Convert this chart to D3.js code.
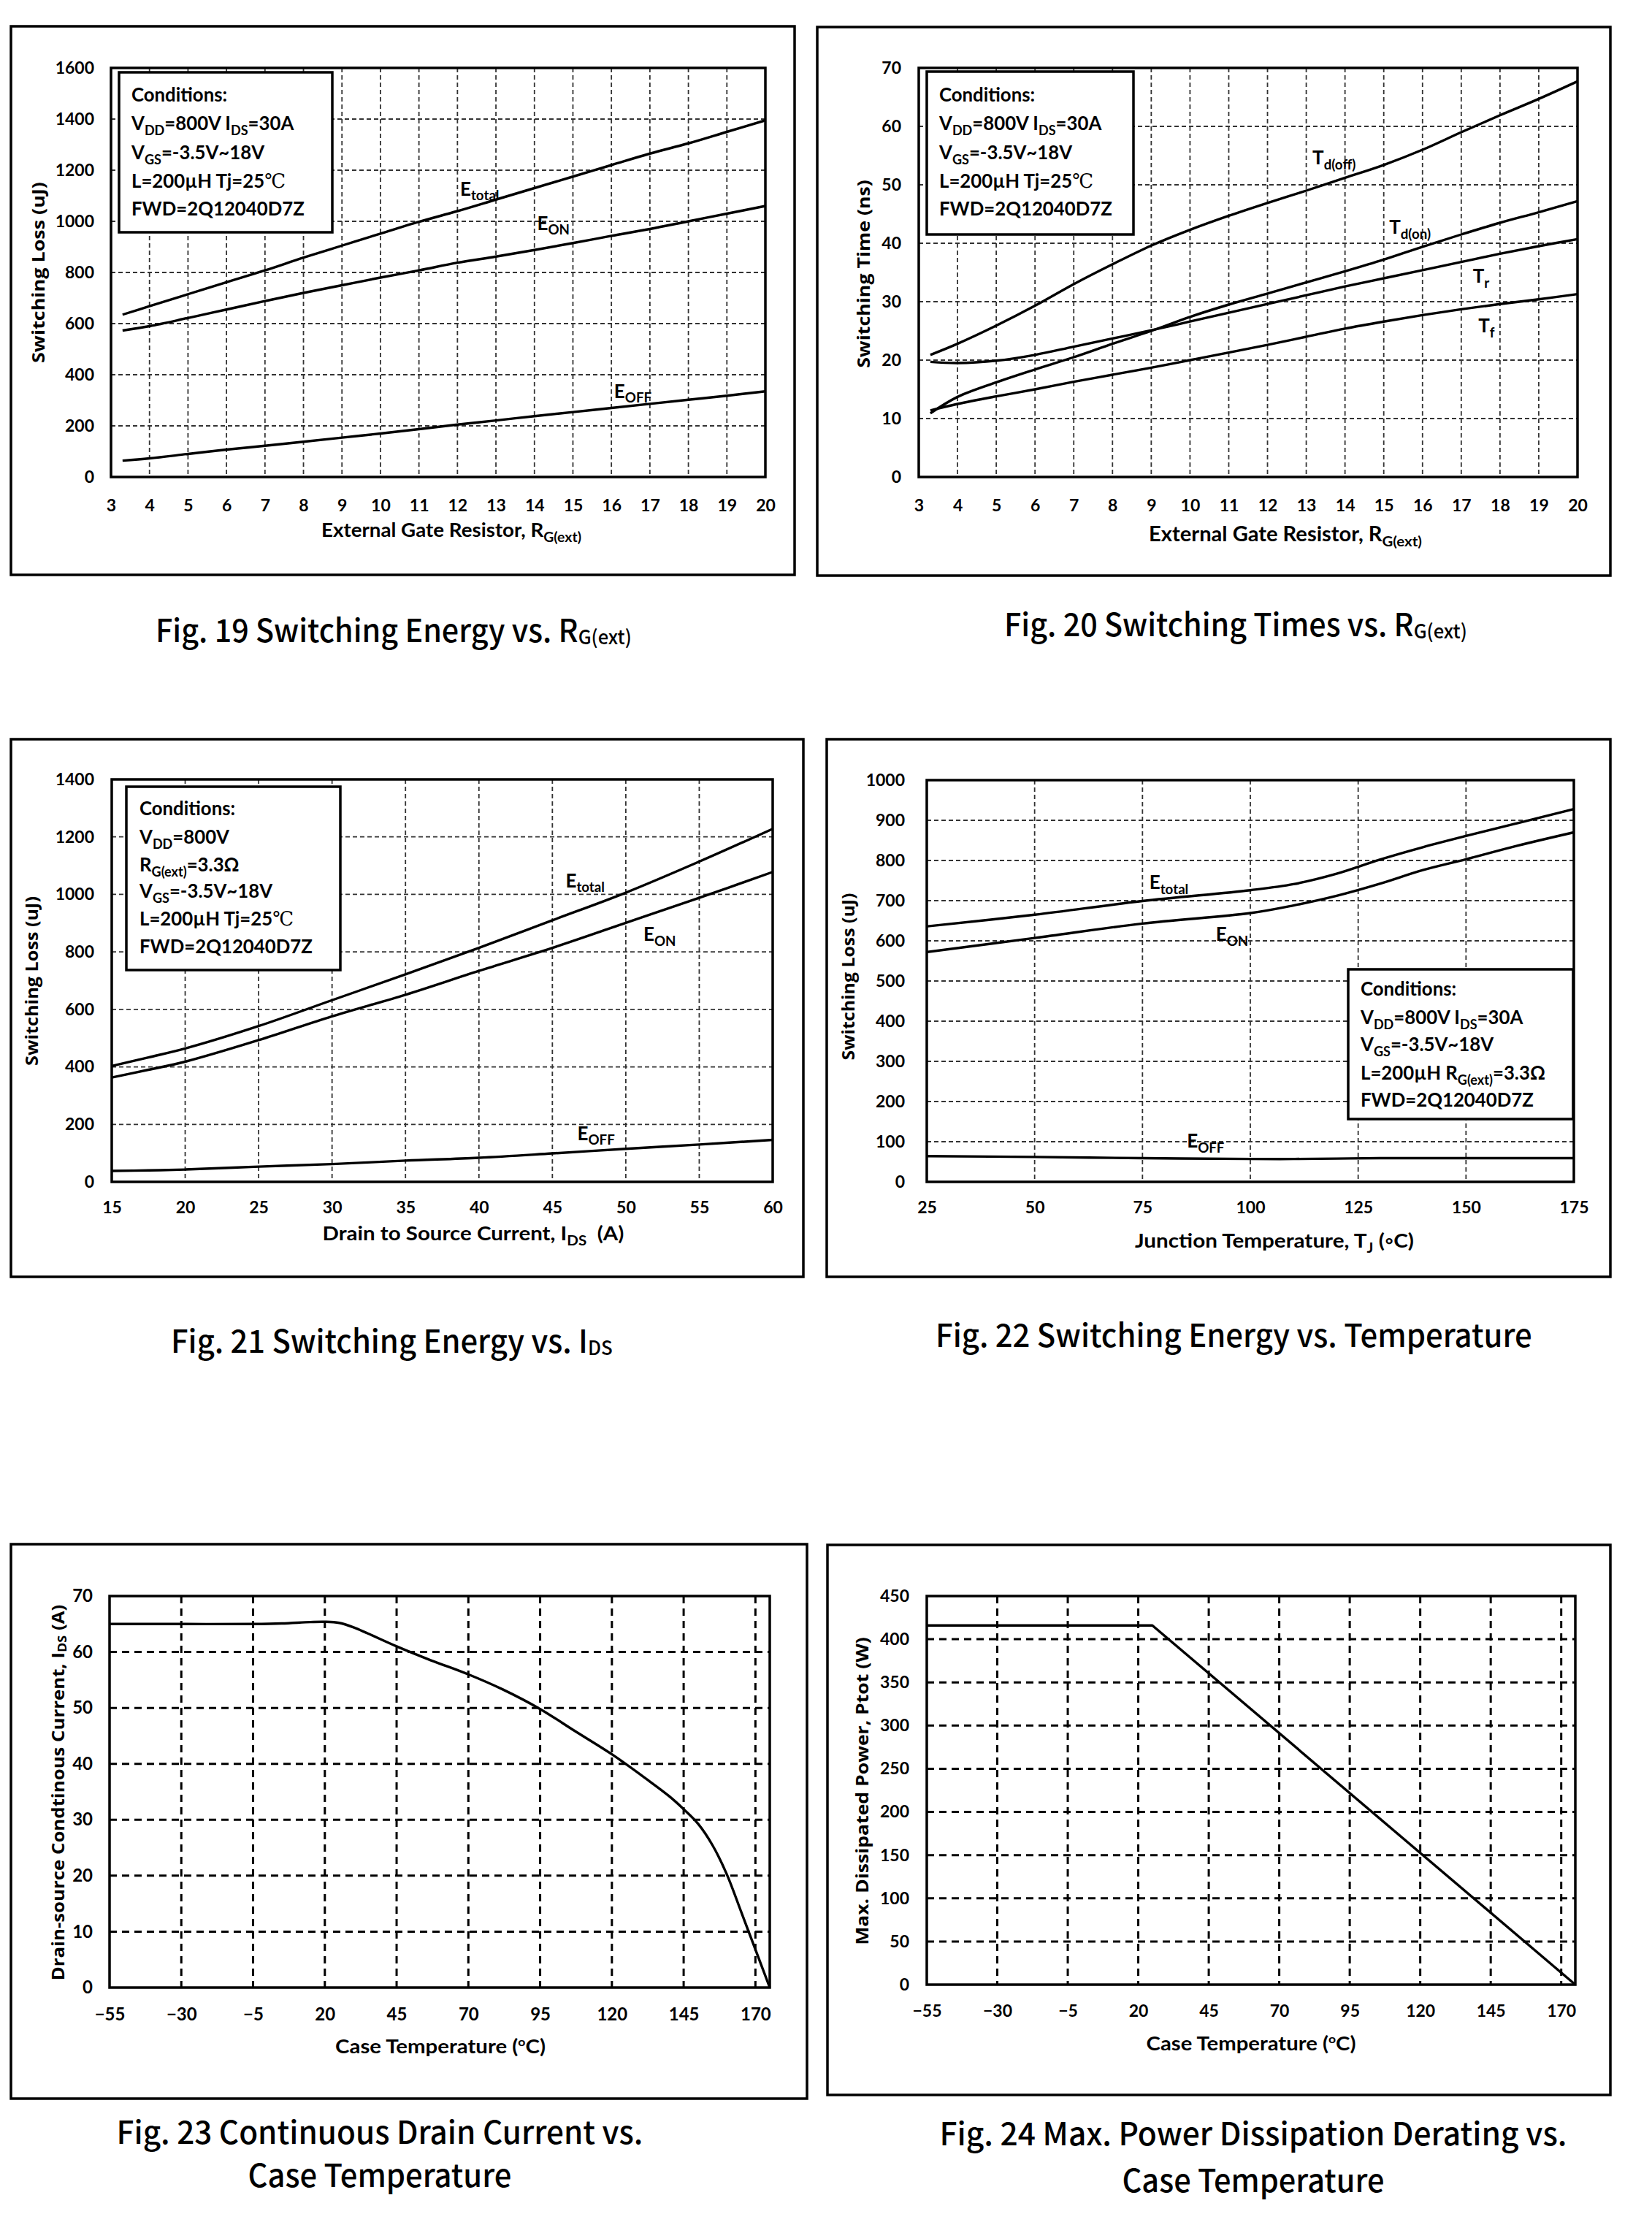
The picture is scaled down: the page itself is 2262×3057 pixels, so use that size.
<!DOCTYPE html>
<html><head><meta charset="utf-8">
<script src="https://cdn.jsdelivr.net/npm/d3@7"></script>
<style>body{margin:0;background:#fff} svg{display:block}</style>
</head><body>
<script>
// ---------------- DATA ----------------
// Fig. 19 / Fig. 20 : external gate resistor (ohm)
const rgExt = [3.3,4,5,6,7,8,9,10,11,12,13,14,15,16,17,18,19,20];
const fig19Etotal = [635,668,715,762,808,858,905,952,998,1040,1085,1130,1175,1220,1265,1305,1350,1395];
const fig19Eon    = [573,590,622,655,688,720,750,780,808,838,862,888,915,943,970,1000,1030,1060];
const fig19Eoff   = [64,73,90,107,122,138,154,170,187,205,221,238,254,270,286,302,318,335];
const fig19XTicks = [3,4,5,6,7,8,9,10,11,12,13,14,15,16,17,18,19,20];
const fig19YTicks = [0,200,400,600,800,1000,1200,1400,1600];

const fig20Tdoff = [20.9,22.8,25.9,29.3,33.0,36.4,39.6,42.3,44.7,46.9,49.0,51.2,53.4,56.0,59.0,61.9,64.7,67.7];
const fig20Tdon  = [10.9,13.7,16.2,18.4,20.5,22.8,25.0,27.4,29.5,31.4,33.3,35.2,37.2,39.4,41.5,43.5,45.3,47.2];
const fig20Tr    = [19.7,19.5,19.9,20.9,22.3,23.7,25.1,26.6,28.1,29.6,31.1,32.6,34.0,35.4,36.8,38.2,39.5,40.7];
const fig20Tf    = [11.4,12.5,13.8,15.0,16.3,17.5,18.7,20.0,21.3,22.6,24.0,25.4,26.6,27.7,28.7,29.6,30.4,31.3];
const fig20YTicks = [0,10,20,30,40,50,60,70];

// Fig. 21 : drain-source current (A)
const idsA = [15,17.5,20,25,30,35,40,45,50,55,60];
const fig21Etotal = [403,433,464,542,632,722,814,910,1006,1114,1228];
const fig21Eon    = [363,390,418,493,576,651,734,814,901,988,1078];
const fig21Eoff   = [38,40,43,53,62,74,84,99,115,130,146];
const fig21XTicks = [15,20,25,30,35,40,45,50,55,60];
const fig21YTicks = [0,200,400,600,800,1000,1200,1400];

// Fig. 22 : junction temperature (C)
const tjC = [25,50,75,100,110,120,130,140,150,162,175];
const fig22Etotal = [636,665,699,726,741,767,802,833,861,893,928];
const fig22Eon    = [572,607,643,669,688,712,742,776,803,837,870];
const fig22Eoff   = [64,62,59,57,57,58,59,59,59,59,59];
const fig22XTicks = [25,50,75,100,125,150,175];
const fig22YTicks = [0,100,200,300,400,500,600,700,800,900,1000];

// Fig. 23 : case temperature (C) vs continuous drain current (A)
const fig23Tc  = [-55,-30,-5,5,15,20,25,30,35,45,57,70,82,95,107,120,132,140,145,150,155,160,165,170,175];
const fig23Ids = [65,65,65,65.1,65.35,65.4,65.2,64.4,63.3,61.0,58.5,56.0,53.3,49.8,45.9,41.7,37.3,34.2,31.9,29.3,25.5,20.3,13.6,6.8,0];
const caseXTicks = [-55,-30,-5,20,45,70,95,120,145,170];
const fig23YTicks = [0,10,20,30,40,50,60,70];

// Fig. 24 : case temperature (C) vs max dissipated power (W)
const fig24Tc   = [-55,25,175];
const fig24Ptot = [416,416,0];
const fig24YTicks = [0,50,100,150,200,250,300,350,400,450];

// ---------------- DRAWING ----------------
const W = 2262, H = 3057;
const svg = d3.select("body").append("svg").attr("width", W).attr("height", H);
svg.append("rect").attr("width", W).attr("height", H).attr("fill", "#fff");

const LAT = "Lato, 'Open Sans', 'DejaVu Sans', sans-serif";
const OPS = "'Open Sans', 'Noto Sans', sans-serif";
const CJK = "'Noto Sans CJK SC', 'Noto Sans', sans-serif";

function rich(sel, str, size, opt) {
  opt = Object.assign({subScale: 0.68, subShift: 0.22, supScale: 0.6, supShift: -0.4}, opt || {});
  const parts = str.split(/(_\{[^}]*\}|\^\{[^}]*\}|℃)/).filter(s => s.length);
  let shift = 0;
  parts.forEach(p => {
    const t = sel.append("tspan");
    let target = 0;
    if (p.startsWith("_{")) {
      t.text(p.slice(2, -1)).attr("font-size", size * opt.subScale);
      target = size * opt.subShift;
    } else if (p.startsWith("^{")) {
      t.text(p.slice(2, -1)).attr("font-size", size * opt.supScale);
      target = size * opt.supShift;
    } else {
      t.text(p);
      if (p === "℃") t.attr("font-family", "'Liberation Serif','DejaVu Serif',serif").attr("font-weight", "normal");
    }
    const dy = target - shift;
    if (dy !== 0) t.attr("dy", dy);
    shift = target;
  });
}

// place a text at (cx,cy), rotated, stretched horizontally to a target length
function fit(t, target, cx, cy, rot) {
  const w = t.node().getComputedTextLength();
  const sx = target ? target / w : 1;
  t.attr("x", 0).attr("y", 0).attr("transform", `translate(${cx},${cy}) rotate(${rot || 0}) scale(${sx},1)`);
}

function panel(c) {
  const g = svg.append("g");
  const [fx0, fy0, fx1, fy1] = c.frame;
  g.append("rect").attr("x", fx0).attr("y", fy0).attr("width", fx1 - fx0).attr("height", fy1 - fy0)
    .attr("fill", "none").attr("stroke", "#000").attr("stroke-width", 3.5);
  const [px0, py0, px1, py1] = c.plot;
  const x = d3.scaleLinear().domain(c.xDomain).range([px0, px1]);
  const y = d3.scaleLinear().domain(c.yDomain).range([py1, py0]);

  // grid
  const gs = c.gridStyle;
  g.append("g").selectAll("line").data(c.xTicks.filter(v => x(v) > px0 + 2 && x(v) < px1 - 2)).join("line")
    .attr("x1", d => x(d)).attr("x2", d => x(d)).attr("y1", py0).attr("y2", py1)
    .attr("stroke", gs.color).attr("stroke-width", gs.width).attr("stroke-dasharray", gs.dash);
  g.append("g").selectAll("line").data(c.yTicks.filter(v => y(v) > py0 + 2 && y(v) < py1 - 2)).join("line")
    .attr("x1", px0).attr("x2", px1).attr("y1", d => y(d)).attr("y2", d => y(d))
    .attr("stroke", gs.color).attr("stroke-width", gs.width).attr("stroke-dasharray", gs.dash);

  // axes (labels only)
  const ax = g.append("g").attr("transform", `translate(0,${py1})`)
    .call(d3.axisBottom(x).tickValues(c.xTicks).tickSize(0).tickPadding(c.xPad).tickFormat(d3.format("d")));
  ax.select(".domain").remove();
  ax.selectAll("text").attr("font-family", LAT).attr("font-weight", "bold").attr("font-size", c.tickSize).attr("fill", "#000");
  const ay = g.append("g").attr("transform", `translate(${px0},0)`)
    .call(d3.axisLeft(y).tickValues(c.yTicks).tickSize(0).tickPadding(c.yPad).tickFormat(d3.format("d")));
  ay.select(".domain").remove();
  ay.selectAll("text").attr("font-family", LAT).attr("font-weight", "bold").attr("font-size", c.tickSize).attr("fill", "#000");

  // curves
  const line = d3.line().x(d => x(d[0])).y(d => y(d[1])).curve(c.curve || d3.curveCatmullRom.alpha(0.5));
  c.series.forEach(s => {
    g.append("path").datum(s.xs.map((v, i) => [v, s.ys[i]])).attr("d", line)
      .attr("fill", "none").attr("stroke", "#000").attr("stroke-width", 3.4).attr("stroke-linejoin", "round");
    if (s.label) {
      const t = g.append("text").attr("x", x(s.label[0])).attr("y", y(s.label[1]))
        .attr("font-family", LAT).attr("font-weight", "bold").attr("font-size", 26).attr("fill", "#000");
      rich(t, s.label[2], 26, {subScale: 0.72, subShift: 0.25});
    }
  });

  // plot border
  g.append("rect").attr("x", px0).attr("y", py0).attr("width", px1 - px0).attr("height", py1 - py0)
    .attr("fill", "none").attr("stroke", "#000").attr("stroke-width", 3.5);

  // conditions box
  if (c.cond) {
    const [bx0, by0, bx1, by1] = c.cond.box;
    g.append("rect").attr("x", bx0).attr("y", by0).attr("width", bx1 - bx0).attr("height", by1 - by0)
      .attr("fill", "#fff").attr("stroke", "#000").attr("stroke-width", 3.5);
    c.cond.lines.forEach((ln, i) => {
      const t = g.append("text").attr("x", 0).attr("y", 0)
        .attr("transform", `translate(${c.cond.tx},${c.cond.base[i]}) scale(0.955,1)`)
        .attr("font-family", LAT).attr("font-weight", "bold").attr("font-size", 27).attr("fill", "#000");
      rich(t, ln, 27, {subScale: 0.7, subShift: 0.25});
    });
  }

  // axis titles
  const yt = g.append("text").attr("text-anchor", "middle").attr("dominant-baseline", "central")
    .attr("font-family", OPS).attr("font-weight", "bold").attr("font-size", 24).attr("fill", "#000");
  rich(yt, c.yTitle, 24, {subScale: 0.7, subShift: 0.25});
  fit(yt, c.yTitleLen, c.yTitlePos[0], c.yTitlePos[1], -90);
  const xt = g.append("text").attr("text-anchor", "middle")
    .attr("font-family", LAT).attr("font-weight", "bold").attr("font-size", c.titleSize).attr("fill", "#000");
  rich(xt, c.xTitle, c.titleSize, {subScale: 0.7, subShift: 0.25});
  fit(xt, c.xTitleLen, c.xTitlePos[0], c.xTitlePos[1], 0);
}

const lightGrid = {color: "#333", width: 1.8, dash: "6,4"};
const boldGrid = {color: "#000", width: 3, dash: "10,7"};
const condRg = ["Conditions:", "V_{DD}=800V I_{DS}=30A", "V_{GS}=-3.5V~18V", "L=200µH Tj=25℃", "FWD=2Q12040D7Z"];

panel({
  frame: [15, 36, 1088, 787], plot: [152, 93, 1048, 653],
  xDomain: [3, 20], yDomain: [0, 1600], xTicks: fig19XTicks, yTicks: fig19YTicks,
  xPad: 31, yPad: 23, tickSize: 23, titleSize: 27, gridStyle: lightGrid,
  series: [
    {xs: rgExt, ys: fig19Etotal, label: [12.07, 1101, "E_{total}"]},
    {xs: rgExt, ys: fig19Eon, label: [14.07, 966, "E_{ON}"]},
    {xs: rgExt, ys: fig19Eoff, label: [16.07, 309, "E_{OFF}"]}
  ],
  cond: {box: [163, 99, 455, 318], tx: 180, base: [139, 178, 218, 257, 295], lines: condRg},
  yTitle: "Switching Loss (uJ)", yTitlePos: [52, 373], yTitleLen: 248,
  xTitle: "External Gate Resistor, R_{G(ext)}", xTitlePos: [618, 735], xTitleLen: 356
});

panel({
  frame: [1119, 37, 2205, 788], plot: [1258, 93, 2160, 653],
  xDomain: [3, 20], yDomain: [0, 70], xTicks: fig19XTicks, yTicks: fig20YTicks,
  xPad: 31, yPad: 24, tickSize: 23, titleSize: 28, gridStyle: lightGrid,
  series: [
    {xs: rgExt, ys: fig20Tdoff, label: [13.16, 53.5, "T_{d(off)}"]},
    {xs: rgExt, ys: fig20Tdon, label: [15.14, 41.6, "T_{d(on)}"]},
    {xs: rgExt, ys: fig20Tr, label: [17.3, 33.2, "T_{r}"]},
    {xs: rgExt, ys: fig20Tf, label: [17.44, 24.75, "T_{f}"]}
  ],
  cond: {box: [1269, 98, 1552, 321], tx: 1286, base: [139, 178, 218, 257, 295], lines: condRg},
  yTitle: "Switching Time (ns)", yTitlePos: [1182, 375], yTitleLen: 258,
  xTitle: "External Gate Resistor, R_{G(ext)}", xTitlePos: [1760, 741], xTitleLen: 374
});

panel({
  frame: [15, 1012, 1100, 1748], plot: [153, 1067, 1058, 1618],
  xDomain: [15, 60], yDomain: [0, 1400], xTicks: fig21XTicks, yTicks: fig21YTicks,
  xPad: 27, yPad: 24, tickSize: 23, titleSize: 27, gridStyle: lightGrid,
  series: [
    {xs: idsA, ys: fig21Etotal, label: [45.9, 1024, "E_{total}"]},
    {xs: idsA, ys: fig21Eon, label: [51.2, 838, "E_{ON}"]},
    {xs: idsA, ys: fig21Eoff, label: [46.7, 145, "E_{OFF}"]}
  ],
  cond: {box: [173, 1077, 466, 1328], tx: 191, base: [1116, 1155, 1193, 1229, 1267, 1305],
    lines: ["Conditions:", "V_{DD}=800V", "R_{G(ext)}=3.3Ω", "V_{GS}=-3.5V~18V", "L=200µH Tj=25℃", "FWD=2Q12040D7Z"]},
  yTitle: "Switching Loss (uJ)", yTitlePos: [42, 1343], yTitleLen: 232,
  xTitle: "Drain to Source Current, I_{DS}\u00A0 (A)", xTitlePos: [648, 1698], xTitleLen: 413
});

panel({
  frame: [1132, 1012, 2205, 1748], plot: [1269, 1068, 2155, 1618],
  xDomain: [25, 175], yDomain: [0, 1000], xTicks: fig22XTicks, yTicks: fig22YTicks,
  xPad: 27, yPad: 30, tickSize: 23, titleSize: 27, gridStyle: lightGrid,
  series: [
    {xs: tjC, ys: fig22Etotal, label: [76.6, 729, "E_{total}"]},
    {xs: tjC, ys: fig22Eon, label: [92, 600, "E_{ON}"]},
    {xs: tjC, ys: fig22Eoff, label: [85.3, 85, "E_{OFF}"]}
  ],
  cond: {box: [1846, 1327, 2154, 1532], tx: 1863, base: [1363, 1402, 1439, 1478, 1515],
    lines: ["Conditions:", "V_{DD}=800V I_{DS}=30A", "V_{GS}=-3.5V~18V", "L=200µH R_{G(ext)}=3.3Ω", "FWD=2Q12040D7Z"]},
  yTitle: "Switching Loss (uJ)", yTitlePos: [1160, 1337], yTitleLen: 229,
  xTitle: "Junction Temperature, T_{J} (◦C)", xTitlePos: [1745, 1708], xTitleLen: 382
});

panel({
  frame: [15, 2114, 1105, 2873], plot: [150, 2185, 1054, 2721],
  xDomain: [-55, 175], yDomain: [0, 70], xTicks: caseXTicks, yTicks: fig23YTicks,
  xPad: 28, yPad: 23, tickSize: 24, titleSize: 26, gridStyle: boldGrid,
  series: [{xs: fig23Tc, ys: fig23Ids}],
  yTitle: "Drain-source Condtinous Current, I_{DS} (A)", yTitlePos: [78, 2454], yTitleLen: 515,
  xTitle: "Case Temperature (^{o}C)", xTitlePos: [603, 2811], xTitleLen: 288
});

panel({
  frame: [1133, 2115, 2205, 2868], plot: [1269, 2185, 2157, 2717],
  xDomain: [-55, 175], yDomain: [0, 450], xTicks: caseXTicks, yTicks: fig24YTicks,
  xPad: 28, yPad: 24, tickSize: 23, titleSize: 26, gridStyle: boldGrid,
  curve: d3.curveLinear,
  series: [{xs: fig24Tc, ys: fig24Ptot}],
  yTitle: "Max. Dissipated Power, Ptot (W)", yTitlePos: [1180, 2452], yTitleLen: 422,
  xTitle: "Case Temperature (^{o}C)", xTitlePos: [1713, 2807], xTitleLen: 287
});

// ---------------- CAPTIONS ----------------
function caption(str, xPos, yPos, len, anchor) {
  const t = svg.append("text").attr("text-anchor", anchor || "start")
    .attr("font-family", CJK).attr("font-weight", 500).attr("font-size", 43).attr("fill", "#000");
  rich(t, str, 43, {subScale: 0.62, subShift: 0.06});
  fit(t, len, xPos, yPos, 0);
}
caption("Fig. 19 Switching Energy vs. R_{G(ext)}", 213, 879, 652);
caption("Fig. 20 Switching Times vs. R_{G(ext)}", 1375, 871, 634);
caption("Fig. 21 Switching Energy vs. I_{DS}", 234, 1852, 605);
caption("Fig. 22 Switching Energy vs. Temperature", 1281, 1844, 817);
caption("Fig. 23 Continuous Drain Current vs.", 520, 2935, 721, "middle");
caption("Case Temperature", 520, 2994, 361, "middle");
caption("Fig. 24 Max. Power Dissipation Derating vs.", 1716, 2937, 859, "middle");
caption("Case Temperature", 1716, 3001, 359, "middle");
</script>
</body></html>
